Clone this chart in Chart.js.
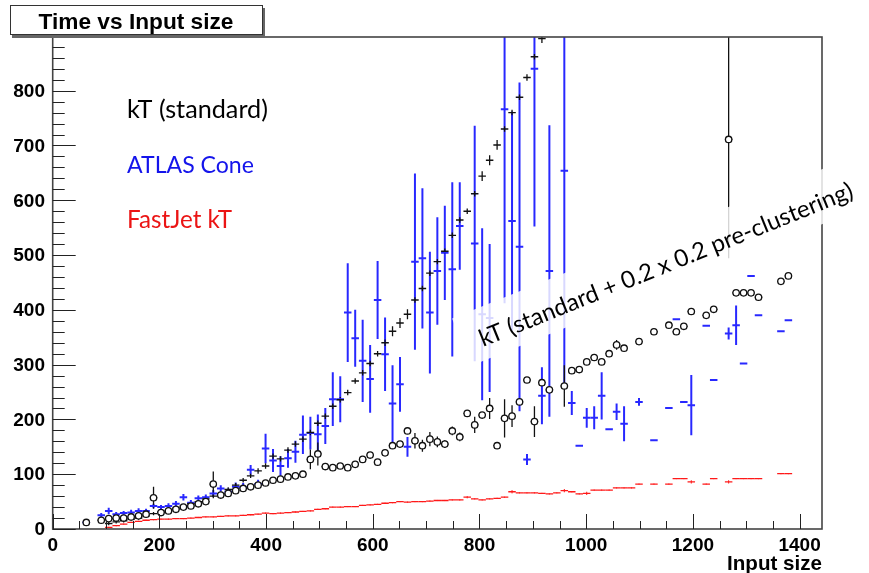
<!DOCTYPE html>
<html><head><meta charset="utf-8">
<script src="https://cdn.jsdelivr.net/npm/chart.js@4/dist/chart.umd.min.js"></script>
<style>html,body{margin:0;padding:0;background:#fff}#wrap{width:869px;height:573px;position:relative}</style>
</head><body><div id="wrap"><canvas id="c" width="869" height="573"></canvas></div>
<script>
// ---- tick labels ----
const xTickValues = [0, 200, 400, 600, 800, 1000, 1200, 1400];
const xTickLabels = ['0', '200', '400', '600', '800', '1000', '1200', '1400'];
const yTickValues = [0, 100, 200, 300, 400, 500, 600, 700, 800];
const yTickLabels = ['0', '100', '200', '300', '400', '500', '600', '700', '800'];

// ---- FastJet kT (red) ----
const fjX = [105,119,133,147,161,175,189,203,217,231,245,259,273,287,301,315,329,343,357,371,385,399,413,427,441,455,469,483,497,511,525,539,553,567,581,595,609,623,637,651,665,679,693,707,721,735,749,763,777,791,805,819,833,847,861,875,889,903,917,931,945,959,973,987,1001,1015,1029,1043,1057,1071,1085,1099,1127,1155,1169,1183,1197,1225,1239,1267,1281,1295,1309,1323,1365,1379];
const fjY = [3,6,9,12,14,16,17,18,18,19,19,20,21,22,22,23,24,24,25,26,27,29,28,29,30,31,32,33,36,37,40,40,41,41,43,44,45,47,48,50,49,50,50,51,52,52,53,53,58,55,53,55,56,58,68,66,66,66,65,64,66,70,68,64,65,71,71,71,75,75,75,82,82,82,92,92,86,82,92,86,92,92,92,92,101,101];
const fjErr = [1,1,1,1,1,1,1,1,1,1,1,1,1,1,1,1,1,1,1,1,1,1,1,1,1,1,1,1,1,1,1,1,1,1,1,1,1,1,1,1,1,1,1,1,1,1,1,1,2,1,1,1,1,1,3,1,1,1,1,1,1,3,1,1,3,1,1,1,1,1,1,1,1,1,1,1,3,1,1,3,1,1,1,1,1,1];

// ---- ATLAS Cone (blue) ----
const atX = [63,91,105,119,133,147,161,175,189,203,217,231,245,259,273,287,301,315,329,343,357,371,385,399,413,427,441,455,469,483,497,511,525,539,553,567,581,595,609,623,637,651,665,679,693,707,721,735,749,763,791,805,819,847,861,875,889,903,917,931,959,973,987,1001,1015,1029,1043,1057,1071,1099,1127,1155,1169,1183,1197,1225,1239,1267,1281,1295,1309,1323,1365,1379];
const atY = [12,25,33,27,29,30,33,33,42,40,42,46,58,48,56,58,65,74,68,77,76,108,82,147,125,115,129,141,172,175,173,188,237,237,395,348,307,274,418,319,229,264,150,488,494,395,471,504,474,553,521,392,385,766,562,515,127,840,243,471,654,230,152,203,203,243,182,214,192,232,162,221,383,232,226,371,272,357,372,302,462,390,361,381];
const atErr = [2,4,6,4,4,5,5,4,4,4,5,5,6,5,5,5,6,6,6,8,8,9,8,27,21,18,17,20,35,30,36,33,49,42,90,52,75,62,71,67,70,50,18,161,128,111,98,86,159,80,215,157,135,354,200,300,10,288,52,266,393,22,0,18,21,43,0,15,32,7,0,0,0,0,55,0,0,11,36,0,0,0,0,0];

// ---- kT (standard) (black) ----
const ktX = [105,119,133,147,161,175,189,203,217,231,245,259,273,287,301,315,329,343,357,371,385,399,413,427,441,455,469,483,497,511,525,539,553,567,581,595,609,623,637,651,665,679,693,707,721,735,749,763,777,791,805,819,833,847,861,875,889,903,917];
const ktY = [10,13,15,18,20,24,28,31,34,38,42,46,50,55,60,64,72,80,89,97,106,115,133,128,144,155,164,176,193,206,224,236,249,270,285,302,320,340,361,376,392,418,439,467,488,507,536,564,580,612,644,673,701,730,760,788,824,862,895];
const ktErr = [3,3,3,3,3,3,3,3,3,3,3,3,3,4,4,4,4,4,4,4,5,5,5,5,5,5,5,5,5,5,5,5,5,5,5,5,5,6,9,9,9,5,5,5,5,5,5,5,5,5,9,9,9,5,5,5,6,5,8];

// ---- kT (standard + 0.2 x 0.2 pre-clustering) (black open circles) ----
const pcX = [63,91,105,119,133,147,161,175,189,203,217,231,245,259,273,287,301,315,329,343,357,371,385,399,413,427,441,455,469,483,497,511,525,539,553,567,581,595,609,623,637,651,665,679,693,707,721,735,749,763,777,791,805,819,833,847,861,875,889,903,917,931,959,973,987,1001,1015,1029,1043,1057,1071,1099,1127,1155,1169,1183,1197,1225,1239,1267,1281,1295,1309,1323,1365,1379];
const pcY = [12,16,19,20,20,22,24,27,57,30,33,36,40,42,46,50,82,62,65,70,74,77,80,84,89,91,95,97,100,127,137,114,112,115,112,118,127,135,122,139,152,155,179,161,152,164,159,155,179,168,211,190,208,220,152,202,206,232,272,196,267,254,261,289,291,305,313,305,320,336,330,342,360,372,360,370,397,390,401,711,431,431,431,423,452,462];
const pcErr = [2,2,2,2,2,2,2,2,20,2,2,2,2,2,2,3,23,3,3,3,3,3,3,3,3,3,3,3,3,18,21,3,3,3,3,3,3,3,5,5,5,5,5,14,11,13,10,7,8,8,5,15,5,19,5,35,20,5,5,28,5,5,38,4,4,4,4,4,4,9,4,4,4,4,4,4,4,4,4,217,3,3,3,3,3,3];

// ---- texts ----
const titleText = 'Time vs Input size';
const xAxisTitle = 'Input size';
const legendTexts = ['kT (standard)', 'ATLAS Cone', 'FastJet kT'];
const rotatedText = 'kT (standard + 0.2 x 0.2 pre-clustering)';

const BLUE = 'rgb(40,40,255)';
const RED = 'rgb(255,25,25)';
const HALF_BIN = 7;

function pts(xs, ys) { return xs.map((x, i) => ({ x: x, y: ys[i] })); }

function drawErr(ctx, sx, sy, xs, ys, es, color, lw, horiz) {
  ctx.strokeStyle = color; ctx.lineWidth = lw;
  ctx.beginPath();
  for (let i = 0; i < xs.length; i++) {
    const px = sx.getPixelForValue(xs[i]);
    if (es[i] > 0) {
      ctx.moveTo(px, sy.getPixelForValue(ys[i] - es[i]));
      ctx.lineTo(px, sy.getPixelForValue(ys[i] + es[i]));
    }
    if (horiz) {
      const py = sy.getPixelForValue(ys[i]);
      ctx.moveTo(sx.getPixelForValue(xs[i] - HALF_BIN), py);
      ctx.lineTo(sx.getPixelForValue(xs[i] + HALF_BIN), py);
    }
  }
  ctx.stroke();
}

function fitFont(ctx, text, weight, family, base, target) {
  ctx.font = weight + ' ' + base + 'px ' + family;
  const w = ctx.measureText(text).width;
  return base * target / w;
}

const rootPlugin = {
  id: 'rootStyle',
  beforeDatasetsDraw(chart) {
    const { ctx, chartArea: a, scales: { x, y } } = chart;
    ctx.save();
    ctx.beginPath(); ctx.rect(a.left, a.top, a.right - a.left, a.bottom - a.top); ctx.clip();
    drawErr(ctx, x, y, fjX, fjY, fjErr, RED, 1, false);
    drawErr(ctx, x, y, atX, atY, atErr, BLUE, 2, false);
    drawErr(ctx, x, y, ktX, ktY, ktErr, '#111', 1.3, false);
    drawErr(ctx, x, y, pcX, pcY, pcErr, '#111', 1.3, true);
    ctx.restore();
  },
  afterDatasetsDraw(chart) {
    const { ctx, chartArea: a, scales: { x, y } } = chart;
    ctx.save();
    // frame
    ctx.strokeStyle = '#444'; ctx.lineWidth = 1.6;
    ctx.strokeRect(a.left, a.top, a.right - a.left, a.bottom - a.top);
    // ticks
    ctx.strokeStyle = '#222'; ctx.lineWidth = 1;
    ctx.beginPath();
    for (let v = 0; v <= 1440; v += 50) {
      const px = Math.round(x.getPixelForValue(v)) + 0.5;
      if (px > a.right - 1) break;
      const len = (v % 200 === 0) ? 15 : 8;
      ctx.moveTo(px, a.bottom); ctx.lineTo(px, a.bottom - len);
    }
    for (let v = 0; v <= 898; v += 20) {
      const py = Math.round(y.getPixelForValue(v)) + 0.5;
      const len = (v % 100 === 0) ? 23 : 12;
      ctx.moveTo(a.left, py); ctx.lineTo(a.left + len, py);
    }
    ctx.stroke();
    // tick labels
    ctx.fillStyle = '#000';
    ctx.font = 'bold 19px "Liberation Sans", Arial, sans-serif';
    ctx.textAlign = 'center'; ctx.textBaseline = 'alphabetic';
    xTickValues.forEach((v, i) => ctx.fillText(xTickLabels[i], x.getPixelForValue(v), 551));
    ctx.textAlign = 'right'; ctx.textBaseline = 'middle';
    yTickValues.forEach((v, i) => ctx.fillText(yTickLabels[i], 45, y.getPixelForValue(v) + 1));
    // axis title
    ctx.textAlign = 'right'; ctx.textBaseline = 'alphabetic';
    let fs = fitFont(ctx, xAxisTitle, 'bold', '"Liberation Sans"', 20, 95);
    ctx.font = 'bold ' + fs + 'px "Liberation Sans"';
    ctx.fillText(xAxisTitle, a.right, 570);

    // rotated label with translucent white box
    const ang = Math.atan2(-150, 372);
    fs = fitFont(ctx, rotatedText, 'normal', 'Lato', 21, 401);
    ctx.font = 'normal ' + fs + 'px Lato';
    const tw = ctx.measureText(rotatedText).width;
    ctx.save();
    ctx.translate(483, 347);
    ctx.rotate(ang);
    ctx.fillStyle = 'rgba(255,255,255,0.82)';
    ctx.fillRect(-18, -38, tw + 30, 51);
    ctx.fillStyle = '#000';
    ctx.textAlign = 'left'; ctx.textBaseline = 'alphabetic';
    ctx.fillText(rotatedText, 0, 0);
    ctx.restore();

    // legend-like annotations
    const legColors = ['#000', 'rgb(20,20,235)', 'rgb(235,20,20)'];
    const legWidths = [141, 127, 105];
    const legBase = [118, 173, 228];
    legendTexts.forEach((t, i) => {
      const f = fitFont(ctx, t, 'normal', 'Lato', 20, legWidths[i]);
      ctx.font = 'normal ' + f + 'px Lato';
      ctx.fillStyle = legColors[i];
      ctx.textAlign = 'left';
      ctx.fillText(t, 127, legBase[i]);
    });

    // title box
    ctx.fillStyle = '#666';
    ctx.fillRect(12, 8, 253, 30);
    ctx.fillStyle = '#fff';
    ctx.fillRect(10, 5, 253, 30);
    ctx.strokeStyle = '#333'; ctx.lineWidth = 1;
    ctx.strokeRect(10.5, 5.5, 252, 29);
    ctx.fillStyle = '#000';
    fs = fitFont(ctx, titleText, 'bold', '"Liberation Sans"', 22, 195);
    ctx.font = 'bold ' + fs + 'px "Liberation Sans"';
    ctx.textAlign = 'center'; ctx.textBaseline = 'alphabetic';
    ctx.fillText(titleText, 136, 28.5);
    ctx.restore();
  }
};

new Chart(document.getElementById('c'), {
  type: 'scatter',
  data: {
    datasets: [
      { label: 'kT (standard + 0.2 x 0.2 pre-clustering)', data: pts(pcX, pcY), order: 0,
        pointStyle: 'circle', pointRadius: 3.2, pointBorderWidth: 1.3,
        borderColor: '#111', backgroundColor: '#fff', showLine: false },
      { label: 'kT (standard)', data: pts(ktX, ktY), order: 1,
        pointStyle: 'line', pointRadius: 3.75, pointBorderWidth: 1.4,
        borderColor: '#111', backgroundColor: '#111', showLine: false },
      { label: 'ATLAS Cone', data: pts(atX, atY), order: 2,
        pointStyle: 'line', pointRadius: 3.75, pointBorderWidth: 2,
        borderColor: BLUE, backgroundColor: BLUE, showLine: false },
      { label: 'FastJet kT', data: pts(fjX, fjY), order: 3,
        pointStyle: 'line', pointRadius: 3.75, pointBorderWidth: 1.3,
        borderColor: RED, backgroundColor: RED, showLine: false }
    ]
  },
  options: {
    responsive: false, devicePixelRatio: 1, animation: false,
    layout: { padding: { left: 52.7, right: 47, top: 37, bottom: 44 } },
    plugins: { legend: { display: false }, tooltip: { enabled: false }, title: { display: false } },
    scales: {
      x: { type: 'linear', min: 0, max: 1442, display: false },
      y: { type: 'linear', min: 0, max: 898, display: false }
    },
    elements: { point: { hoverRadius: 0 } }
  },
  plugins: [rootPlugin]
});
</script>
</body></html>
